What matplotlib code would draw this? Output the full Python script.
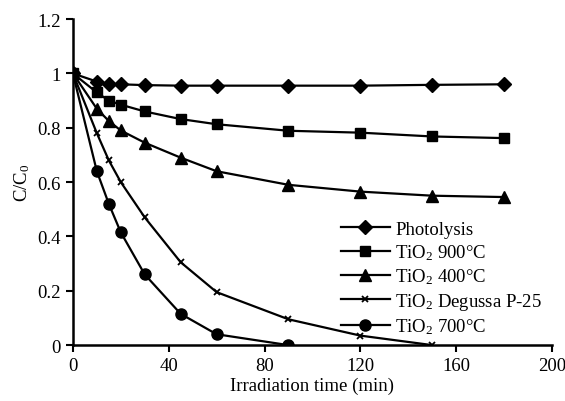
import matplotlib
matplotlib.use("Agg")
import matplotlib.pyplot as plt

plt.rcParams['font.family'] = ['Liberation Serif', 'DejaVu Serif']
plt.rcParams['mathtext.fontset'] = 'custom'
plt.rcParams['mathtext.rm'] = 'Liberation Serif'
plt.rcParams['mathtext.it'] = 'Liberation Serif:italic'

# irradiation times (min) and C/C0 values
t_photo = [0, 10, 15, 20, 30, 45, 60, 90, 120, 150, 180]
photolysis = [1.0, 0.97, 0.96, 0.96, 0.957, 0.955, 0.955, 0.955, 0.955, 0.958, 0.96]

t_900 = [0, 10, 15, 20, 30, 45, 60, 90, 120, 150, 180]
tio2_900 = [1.0, 0.93, 0.90, 0.885, 0.86, 0.832, 0.813, 0.789, 0.782, 0.768, 0.762]

t_400 = [0, 10, 15, 20, 30, 45, 60, 90, 120, 150, 180]
tio2_400 = [1.0, 0.87, 0.825, 0.79, 0.745, 0.69, 0.64, 0.59, 0.565, 0.55, 0.545]

t_p25 = [0, 10, 15, 20, 30, 45, 60, 90, 120, 150]
tio2_p25 = [1.0, 0.78, 0.68, 0.60, 0.47, 0.305, 0.195, 0.095, 0.035, 0.0]

t_700 = [0, 10, 15, 20, 30, 45, 60, 90]
tio2_700 = [1.0, 0.64, 0.52, 0.415, 0.26, 0.115, 0.04, 0.0]

labels = ['Photolysis', r'TiO$_2$ 900°C', r'TiO$_2$ 400°C',
          r'TiO$_2$ Degussa P-25', r'TiO$_2$ 700°C']

fs = 13.5

fig = plt.figure(figsize=(5.65, 4.02), dpi=100)
ax = fig.add_axes([0.129, 0.139, 0.848, 0.811])

kw = dict(color='black', linewidth=1.6, markeredgecolor='black', markerfacecolor='black')
ax.plot(t_photo, photolysis, marker='D', markersize=7.5, label=labels[0], **kw)
ax.plot(t_900, tio2_900, marker='s', markersize=7.5, label=labels[1], **kw)
ax.plot(t_400, tio2_400, marker='^', markersize=8, label=labels[2], **kw)
ax.plot(t_p25, tio2_p25, marker='x', markersize=5, markeredgewidth=1.3, label=labels[3], **kw)
ax.plot(t_700, tio2_700, marker='o', markersize=8, label=labels[4], **kw)

ax.set_xlim(0, 200)
ax.set_ylim(0, 1.2)
ax.set_xticks([0, 40, 80, 120, 160, 200])
ax.set_yticks([0, 0.2, 0.4, 0.6, 0.8, 1.0, 1.2])
ax.set_yticklabels(['0', '0.2', '0.4', '0.6', '0.8', '1', '1.2'])
ax.spines['top'].set_visible(False)
ax.spines['right'].set_visible(False)
ax.spines['left'].set_linewidth(1.8)
ax.spines['bottom'].set_linewidth(1.8)
ax.tick_params(direction='out', length=5, width=1.5, labelsize=fs, colors='black')
ax.set_xlabel('Irradiation time (min)', fontsize=fs, labelpad=2)
ax.set_ylabel(r'C/C$_0$', fontsize=fs, labelpad=4)

ax.legend(loc='lower right', bbox_to_anchor=(1.015, -0.025), frameon=False,
          fontsize=fs, handlelength=2.6, handletextpad=0.3, labelspacing=0.25)

fig.savefig('out.png', dpi=100)
